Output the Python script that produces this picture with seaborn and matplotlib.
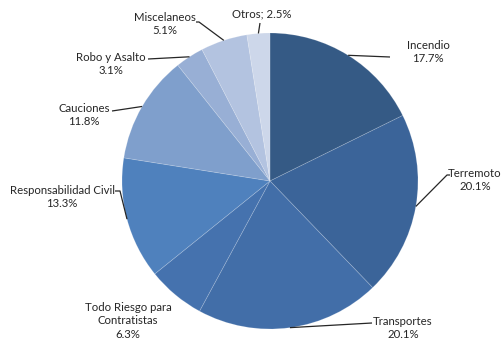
import numpy as np
import matplotlib
matplotlib.use("Agg")
import matplotlib.pyplot as plt
import seaborn as sns

categories = ["Incendio", "Terremoto", "Transportes", "Todo Riesgo para\nContratistas",
              "Responsabilidad Civil", "Cauciones", "Robo y Asalto", "Miscelaneos", "Otros"]
values = [17.7, 20.1, 20.1, 6.3, 13.3, 11.8, 3.1, 5.1, 2.5]
labels = ["Incendio\n17.7%", "Terremoto\n20.1%", "Transportes\n20.1%",
          "Todo Riesgo para\nContratistas\n6.3%", "Responsabilidad Civil\n13.3%",
          "Cauciones\n11.8%", "Robo y Asalto\n3.1%", "Miscelaneos\n5.1%", "Otros; 2.5%"]
colors = ["#355A85", "#3B6499", "#426EA8", "#4572AE", "#4F81BD",
          "#7F9FCC", "#98AFD5", "#B3C3E0", "#CDD7EA"]

sns.set_theme(style="white")
plt.rcParams['font.family'] = ['Lato', 'DejaVu Sans']

W, H = 504, 340
fig = plt.figure(figsize=(W / 100, H / 100), dpi=100)
ax = fig.add_axes([0, 0, 1, 1])

cx, cy, r = 270, H - 181, 148
wedges, _ = ax.pie(values, colors=colors, startangle=90, counterclock=False,
                   radius=r, center=(cx, cy), frame=True,
                   wedgeprops=dict(edgecolor=(1, 1, 1, 0.18), linewidth=0.6))
ax.set_xlim(0, W)
ax.set_ylim(0, H)
ax.set_aspect("equal")
ax.axis("off")

# label layout (pixel coords, y measured from top): text center, leader bend points
layout = [
    ((428, 52), [(390, 57)]),
    ((475, 180), [(447, 175), (450, 175)]),
    ((403, 328), [(372, 323)]),
    ((128, 321), None),
    ((62, 197), [(120, 191), (115, 191)]),
    ((84, 115), [(112, 111)]),
    ((111, 64), [(148, 59)]),
    ((165, 24), [(199, 22), (196, 22)]),
    ((262, 14), [(260, 23)]),
]

for w, lab, (tpos, pts) in zip(wedges, labels, layout):
    ang = np.deg2rad((w.theta1 + w.theta2) / 2)
    ax_ = cx + r * np.cos(ang)
    ay_ = cy + r * np.sin(ang)
    ax.text(tpos[0], H - tpos[1], lab, ha="center", va="center", fontsize=8.2,
            color="#262626", linespacing=1.32)
    if pts:
        xs = [ax_] + [p[0] for p in pts]
        ys = [ay_] + [H - p[1] for p in pts]
        ax.plot(xs, ys, color="#262626", lw=0.9, solid_capstyle="butt")

fig.savefig("out.png", dpi=100, facecolor="white")
